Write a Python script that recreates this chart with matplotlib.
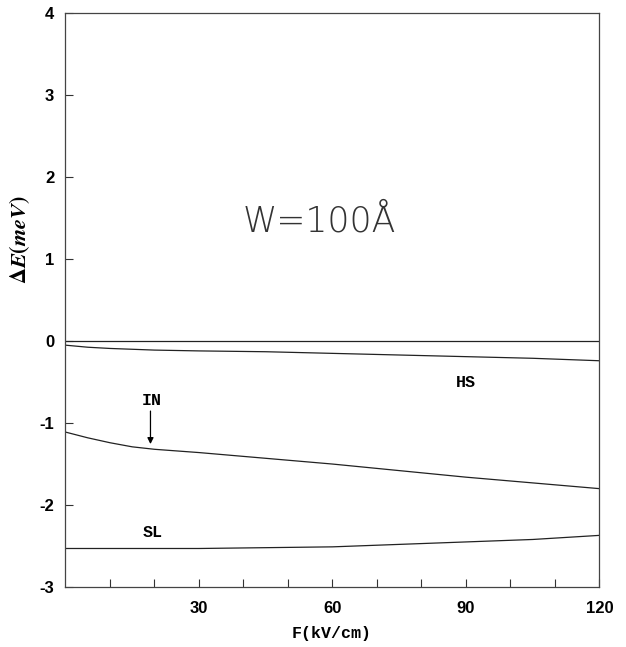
import numpy as np
import matplotlib
matplotlib.use('Agg')
import matplotlib.pyplot as plt

plt.rcParams['mathtext.fontset'] = 'stix'

# field values (kV/cm)
field = [0, 5, 10, 15, 20, 30, 45, 60, 75, 90, 105, 120]

zero_line = [0.0, 0.0, 0.0, 0.0, 0.0, 0.0, 0.0, 0.0, 0.0, 0.0, 0.0, 0.0]
hs_curve = [-0.05, -0.075, -0.09, -0.10, -0.11, -0.12, -0.13, -0.15, -0.17, -0.19, -0.21, -0.24]
in_curve = [-1.11, -1.18, -1.24, -1.29, -1.32, -1.36, -1.43, -1.50, -1.58, -1.66, -1.73, -1.80]
sl_curve = [-2.53, -2.53, -2.53, -2.53, -2.53, -2.53, -2.52, -2.51, -2.48, -2.45, -2.42, -2.37]

x_ticks = [30, 60, 90, 120]
y_ticks = [-3, -2, -1, 0, 1, 2, 3, 4]

fig = plt.figure(figsize=(6.26, 6.47), dpi=100)
ax = fig.add_axes([0.1046, 0.0927, 0.853, 0.887])

for curve in [zero_line, hs_curve, in_curve, sl_curve]:
    ax.plot(field, curve, color='#222222', lw=0.9)

ax.set_xlim(0, 120)
ax.set_ylim(-3, 4)
ax.set_xticks(x_ticks)
ax.set_xticks(np.arange(10, 120, 10), minor=True)
ax.set_yticks(y_ticks)
ax.set_xticklabels([str(t) for t in x_ticks], fontsize=12, fontweight='bold', family='Liberation Sans')
ax.set_yticklabels([str(t) for t in y_ticks], fontsize=12, fontweight='bold', family='Liberation Sans')
ax.tick_params(axis='both', which='both', direction='in', length=6, width=0.8, color='#333333')
ax.tick_params(axis='x', which='major', pad=10)
ax.tick_params(axis='y', which='major', pad=8)
for side in ['left', 'right', 'top', 'bottom']:
    ax.spines[side].set_color('#444444')
    ax.spines[side].set_linewidth(0.9)

mono = dict(family='Liberation Mono', fontweight='bold', fontsize=12)
ax.text(19.4, -0.72, 'IN', ha='center', va='center', **mono)
ax.text(19.6, -2.33, 'SL', ha='center', va='center', **mono)
ax.text(90, -0.51, 'HS', ha='center', va='center', **mono)
ax.annotate('', xy=(19.1, -1.29), xytext=(19.1, -0.82),
            arrowprops=dict(arrowstyle='-|>', color='black', lw=0.9, mutation_scale=9))

ax.text(57, 1.46, 'W=100Å', ha='center', va='center', fontsize=25,
        family='DejaVu Sans', fontweight='ultralight', color='#333333')

fig.text(0.032, 0.63, r'$\boldsymbol{\Delta E(meV)}$', rotation=90,
         ha='center', va='center', fontsize=16)
fig.text(0.53, 0.021, 'F(kV/cm)', ha='center', va='center', **mono)

fig.savefig('out.png', dpi=100)
